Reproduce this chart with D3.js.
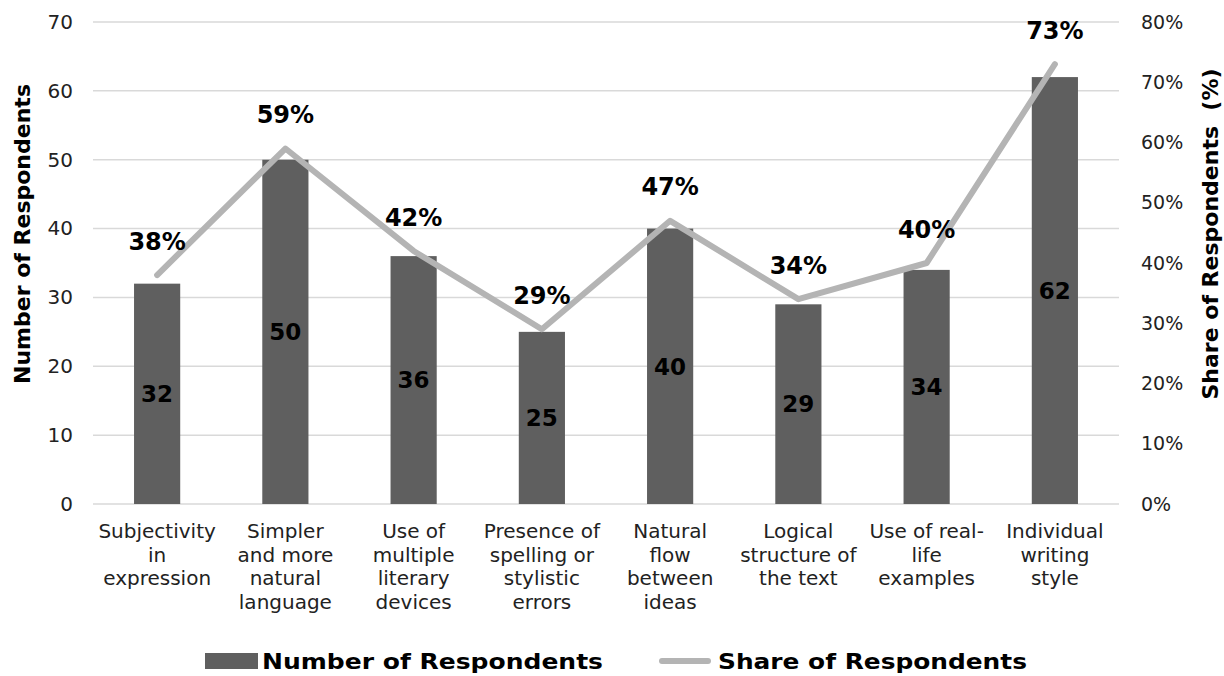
<!DOCTYPE html>
<html>
<head>
<meta charset="utf-8">
<script src="https://cdn.jsdelivr.net/npm/d3@7"></script>
<style>
  body { margin: 0; background: #fff; }
  svg { display: block; font-family: "DejaVu Sans", sans-serif; }
</style>
</head>
<body>
<svg id="chart" width="1224" height="676"></svg>
<script>
// Category labels, one array of lines per category
const categories = [
  ["Subjectivity", "in", "expression"],
  ["Simpler", "and more", "natural", "language"],
  ["Use of", "multiple", "literary", "devices"],
  ["Presence of", "spelling or", "stylistic", "errors"],
  ["Natural", "flow", "between", "ideas"],
  ["Logical", "structure of", "the text"],
  ["Use of real-", "life", "examples"],
  ["Individual", "writing", "style"]
];
const respondents = [32, 50, 36, 25, 40, 29, 34, 62];
const sharePct = [38, 59, 42, 29, 47, 34, 40, 73];
const leftTicks = [0, 10, 20, 30, 40, 50, 60, 70];
const rightTicks = [0, 10, 20, 30, 40, 50, 60, 70, 80];

const svg = d3.select("#chart");
const plot = { left: 93, right: 1119, top: 22, bottom: 504 };
const titleMid = 234;

const x = d3.scaleBand()
  .domain(d3.range(categories.length))
  .range([plot.left, plot.right])
  .paddingInner(0.64).paddingOuter(0.32);
const yL = d3.scaleLinear().domain([0, 70]).range([plot.bottom, plot.top]);
const yR = d3.scaleLinear().domain([0, 80]).range([plot.bottom, plot.top]);

const barColor = "#5f5f5f";
const lineColor = "#b4b4b4";

// Gridlines
svg.append("g")
  .selectAll("line")
  .data(leftTicks)
  .join("line")
  .attr("x1", plot.left).attr("x2", plot.right)
  .attr("y1", d => yL(d)).attr("y2", d => yL(d))
  .attr("stroke", "#d9d9d9").attr("stroke-width", 1.5);

// Left axis
const leftAxis = svg.append("g")
  .attr("transform", `translate(${plot.left - 6},0)`)
  .call(d3.axisLeft(yL).tickValues(leftTicks).tickSize(0).tickPadding(14));
leftAxis.select(".domain").remove();
leftAxis.selectAll("text").attr("font-size", 20).attr("fill", "#222")
  .attr("font-family", "DejaVu Sans, sans-serif");

// Right axis
const rightAxis = svg.append("g")
  .attr("transform", `translate(${plot.right + 8},0)`)
  .call(d3.axisRight(yR).tickValues(rightTicks).tickSize(0).tickPadding(14)
    .tickFormat(d => d + "%"));
rightAxis.select(".domain").remove();
rightAxis.selectAll("text").attr("font-size", 19).attr("fill", "#222")
  .attr("font-family", "DejaVu Sans, sans-serif");

// Bars
svg.append("g")
  .selectAll("rect")
  .data(respondents)
  .join("rect")
  .attr("x", (d, i) => x(i))
  .attr("width", x.bandwidth())
  .attr("y", d => yL(d))
  .attr("height", d => yL(0) - yL(d))
  .attr("fill", barColor);

// Bar value labels
svg.append("g")
  .selectAll("text")
  .data(respondents)
  .join("text")
  .attr("x", (d, i) => x(i) + x.bandwidth() / 2)
  .attr("y", d => (yL(d) + yL(0)) / 2)
  .attr("dy", "0.36em")
  .attr("text-anchor", "middle")
  .attr("font-size", 23).attr("font-weight", "bold").attr("fill", "#000")
  .text(d => d);

// Share line
const cx = i => x(i) + x.bandwidth() / 2;
svg.append("path")
  .datum(sharePct)
  .attr("d", d3.line().x((d, i) => cx(i)).y(d => yR(d)))
  .attr("fill", "none")
  .attr("stroke", lineColor)
  .attr("stroke-width", 6)
  .attr("stroke-linejoin", "round")
  .attr("stroke-linecap", "round");

// Share labels
svg.append("g")
  .selectAll("text")
  .data(sharePct)
  .join("text")
  .attr("x", (d, i) => cx(i))
  .attr("y", d => yR(d) - 34)
  .attr("dy", "0.36em")
  .attr("text-anchor", "middle")
  .attr("font-size", 24).attr("font-weight", "bold").attr("fill", "#000")
  .text(d => d + "%");

// Category labels
const catG = svg.append("g")
  .selectAll("text")
  .data(categories)
  .join("text")
  .attr("x", (d, i) => cx(i))
  .attr("y", 531)
  .attr("text-anchor", "middle")
  .attr("font-size", 20).attr("fill", "#222");
catG.selectAll("tspan")
  .data(d => d)
  .join("tspan")
  .attr("x", function () { return this.parentNode.getAttribute("x"); })
  .attr("dy", (d, j) => j === 0 ? "0.36em" : "1.18em")
  .text(d => d);

// Axis titles
svg.append("text")
  .attr("transform", `translate(22,${titleMid}) rotate(-90)`)
  .attr("text-anchor", "middle").attr("dy", "0.36em")
  .attr("font-size", 22).attr("font-weight", "bold").attr("fill", "#000")
  .text("Number of Respondents");
svg.append("text")
  .attr("transform", `translate(1210,${titleMid}) rotate(-90)`)
  .attr("text-anchor", "middle").attr("dy", "0.36em")
  .attr("font-size", 22).attr("font-weight", "bold").attr("fill", "#000")
  .attr("xml:space", "preserve")
  .text("Share of Respondents  (%)");

// Legend
const legendY = 661;
const legend = svg.append("g");
legend.append("rect")
  .attr("x", 205).attr("y", legendY - 8).attr("width", 53).attr("height", 16)
  .attr("fill", barColor);
legend.append("text")
  .attr("x", 262).attr("y", legendY).attr("dy", "0.36em")
  .attr("font-size", 22).attr("font-weight", "bold").attr("fill", "#000")
  .attr("textLength", 341).attr("lengthAdjust", "spacingAndGlyphs")
  .text("Number of Respondents");
legend.append("line")
  .attr("x1", 662).attr("x2", 708).attr("y1", legendY).attr("y2", legendY)
  .attr("stroke", lineColor).attr("stroke-width", 6).attr("stroke-linecap", "round");
legend.append("text")
  .attr("x", 718).attr("y", legendY).attr("dy", "0.36em")
  .attr("font-size", 22).attr("font-weight", "bold").attr("fill", "#000")
  .attr("textLength", 309).attr("lengthAdjust", "spacingAndGlyphs")
  .text("Share of Respondents");
</script>
</body>
</html>
